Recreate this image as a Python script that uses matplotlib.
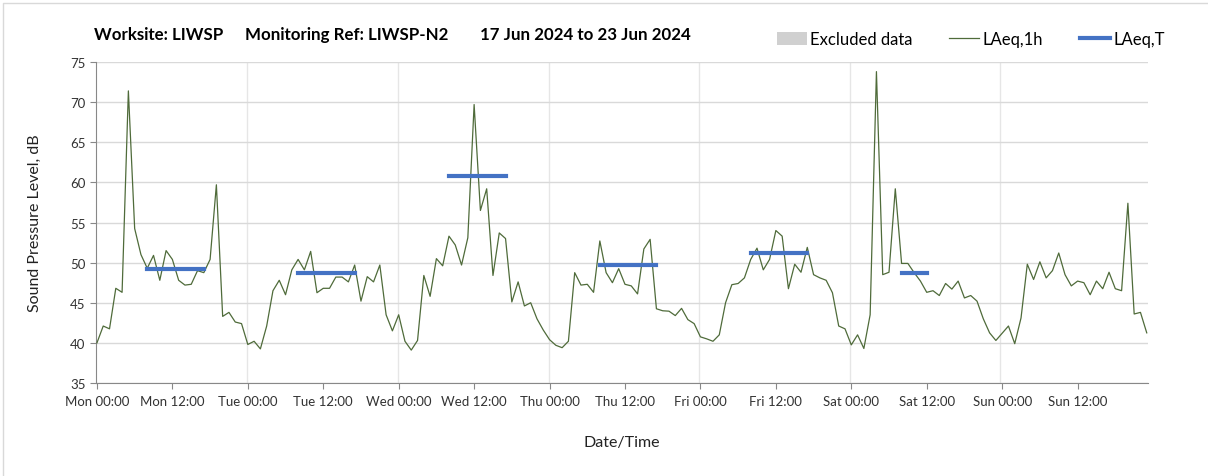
import numpy as np
import matplotlib
matplotlib.use('Agg')
from matplotlib import pyplot as plt
from matplotlib.patches import Patch
from matplotlib.lines import Line2D

# hourly LAeq,1h, Mon 00:00 .. Sun 23:00
hours = np.arange(168)
laeq_1h = [
    40.0, 42.1, 41.75, 46.8, 46.3, 71.4, 54.25, 51.0, 49.3, 50.9, 47.8, 51.5,
    50.4, 47.8, 47.2, 47.3, 49.0, 48.75, 50.4, 59.7, 43.3, 43.8, 42.6, 42.4,
    39.8, 40.2, 39.25, 42.1, 46.5, 47.8, 46.0, 49.1, 50.4, 49.1, 51.4, 46.25,
    46.8, 46.8, 48.2, 48.2, 47.6, 49.7, 45.2, 48.25, 47.6, 49.7, 43.5, 41.5,
    43.5, 40.2, 39.1, 40.3, 48.4, 45.8, 50.5, 49.6, 53.3, 52.2, 49.7, 53.1,
    69.7, 56.5, 59.2, 48.4, 53.7, 53.0, 45.1, 47.6, 44.6, 45.0, 43.0, 41.6,
    40.4, 39.7, 39.4, 40.2, 48.75, 47.2, 47.3, 46.3, 52.7, 48.75, 47.5, 49.25,
    47.3, 47.1, 46.1, 51.7, 52.9, 44.25, 44.0, 43.95, 43.4, 44.3, 42.9, 42.4,
    40.75, 40.5, 40.2, 41.0, 45.0, 47.25, 47.4, 48.1, 50.4, 51.8, 49.1, 50.4,
    54.0, 53.3, 46.75, 49.8, 48.8, 51.9, 48.5, 48.1, 47.8, 46.25, 42.1, 41.75,
    39.75, 41.0, 39.3, 43.5, 73.8, 48.5, 48.8, 59.2, 49.9, 49.9, 48.75, 47.7,
    46.3, 46.5, 45.9, 47.4, 46.7, 47.7, 45.6, 45.9, 45.2, 43.0, 41.25, 40.3,
    41.2, 42.1, 39.9, 43.1, 49.8, 47.9, 50.1, 48.1, 49.0, 51.2, 48.5, 47.1,
    47.7, 47.5, 46.0, 47.7, 46.75, 48.8, 46.75, 46.5, 57.4, 43.6, 43.8, 41.25,
]

# LAeq,T periods (start hour, end hour, level)
period_start = [8, 32, 56, 80, 104, 128]
period_end = [17, 41, 65, 89, 113, 132]
laeq_t = [49.2, 48.7, 60.75, 49.7, 51.25, 48.7]

days = ['Mon', 'Tue', 'Wed', 'Thu', 'Fri', 'Sat', 'Sun']
tick_labels = [f'{d} {t}' for d in days for t in ('00:00', '12:00')]

plt.rcParams['font.family'] = ['Lato', 'DejaVu Sans']

fig = plt.figure(figsize=(12.08, 4.77), dpi=100)
ax = fig.add_axes([96 / 1208, 1 - 384 / 477, 1052 / 1208, 321 / 477])

green = '#4f6b3a'
blue = '#4472c4'

ax.plot(hours, laeq_1h, color=green, lw=0.9, zorder=3)
for s, e, v in zip(period_start, period_end, laeq_t):
    ax.plot([s, e], [v, v], color=blue, lw=3, solid_capstyle='projecting', zorder=4)

ax.set_xlim(-0.15, 167.2)
ax.set_ylim(35, 75)
ax.set_yticks(np.arange(35, 76, 5))
ax.set_xticks(np.arange(0, 168, 12))
ax.set_xticklabels(tick_labels, fontsize=9.5, color='#333333')
ax.tick_params(axis='y', labelsize=9.5, labelcolor='#333333', length=4, color='#888888')
ax.tick_params(axis='x', length=4, color='#888888', pad=5)

ax.set_axisbelow(True)
ax.grid(axis='y', color='#d9d9d9', lw=1)
for d in range(1, 8):
    ax.axvline(d * 24 - 0.05 * d, color='#e6e6e6', lw=1, zorder=0)

for side in ('top', 'right'):
    ax.spines[side].set_visible(False)
for side in ('left', 'bottom'):
    ax.spines[side].set_color('#888888')

ax.set_ylabel('Sound Pressure Level, dB', fontsize=11.5, color='#222222', labelpad=20)
ax.set_xlabel('Date/Time', fontsize=11.5, color='#222222', labelpad=20)

# title pieces
title_y = 1 - 35 / 477
fig.text(94 / 1208, title_y, 'Worksite: LIWSP', fontsize=12.2, fontweight='bold', va='center')
fig.text(245 / 1208, title_y, 'Monitoring Ref: LIWSP-N2', fontsize=12.2, fontweight='bold', va='center')
fig.text(480 / 1208, title_y, '17 Jun 2024 to 23 Jun 2024', fontsize=12.2, fontweight='bold', va='center')

handles = [
    Patch(facecolor='#d0d0d0', edgecolor='none'),
    Line2D([], [], color=green, lw=0.9),
    Line2D([], [], color=blue, lw=3),
]
fig.legend(handles, ['Excluded data', 'LAeq,1h', 'LAeq,T'], loc='center left',
           bbox_to_anchor=(762 / 1208, 1 - 40 / 477), ncol=3, frameon=False,
           fontsize=12, handlelength=1.8, handletextpad=0.2, columnspacing=2.2,
           handleheight=0.8)

# outer chart border
fig.add_artist(Line2D([3 / 1208, 3 / 1208, 1.0], [0, 1 - 4 / 477, 1 - 4 / 477],
                      transform=fig.transFigure, color='#d9d9d9', lw=1))

fig.savefig('out.png', dpi=100)
